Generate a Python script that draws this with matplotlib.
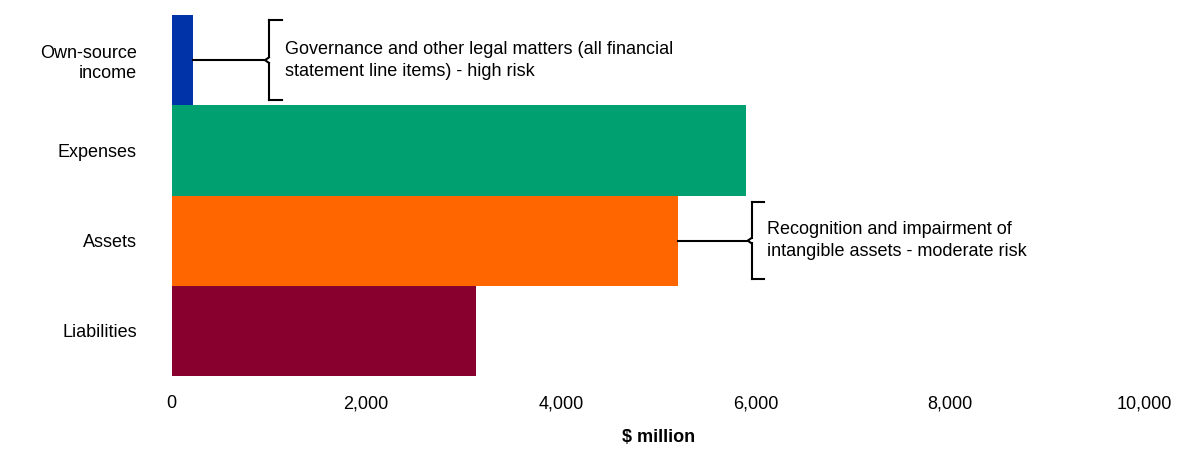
import matplotlib.pyplot as plt
from matplotlib.ticker import FuncFormatter

plt.rcParams["font.family"] = "Liberation Sans"

categories = ["Own-source\nincome", "Expenses", "Assets", "Liabilities"]
values = [216, 5900, 5200, 3130]
colors = ["#0033a8", "#00a071", "#ff6600", "#87002e"]
xticks = [0, 2000, 4000, 6000, 8000, 10000]

notes = [
    (0, "Governance and other legal matters (all financial\nstatement line items) - high risk"),
    (2, "Recognition and impairment of\nintangible assets - moderate risk"),
]

fig = plt.figure(figsize=(12, 4.7), dpi=100)
ax = fig.add_axes([0.143, 0.2, 0.811, 0.768])

ypos = list(range(len(categories)))
ax.barh(ypos, values, height=1.0, color=colors)
ax.set_ylim(3.5, -0.5)
ax.set_xlim(0, 10000)
ax.set_yticks(ypos)
ax.set_yticklabels(categories, fontsize=13)
ax.set_xticks(xticks)
ax.xaxis.set_major_formatter(FuncFormatter(lambda v, p: f"{int(v):,}"))
ax.tick_params(axis="x", labelsize=13, length=0, pad=14)
ax.tick_params(axis="y", length=0, pad=25)
for s in ax.spines.values():
    s.set_visible(False)
ax.set_xlabel("\\$ million", fontsize=13, fontweight="bold", labelpad=12)


def brace(ax, x, yc, half, end):
    top, bot = yc - half, yc + half
    nub = x - 40
    ax.plot([end, x], [top, top], color="black", lw=1.5, clip_on=False)
    ax.plot([x, x], [top, yc - 0.03], color="black", lw=1.5, clip_on=False)
    ax.plot([x, nub, x], [yc - 0.03, yc, yc + 0.03], color="black", lw=1.5, clip_on=False)
    ax.plot([x, x], [yc + 0.03, bot], color="black", lw=1.5, clip_on=False)
    ax.plot([x, end], [bot, bot], color="black", lw=1.5, clip_on=False)
    return nub


for idx, text in notes:
    v = values[idx]
    if idx == 0:
        x, end, tx, half = 1000, 1130, 1170, 0.44
    else:
        x, end, tx, half = 5960, 6090, 6120, 0.43
    nub = brace(ax, x, idx, half, end)
    ax.plot([v, nub], [idx, idx], color="black", lw=1.5, clip_on=False)
    ax.text(tx, idx, text, fontsize=13, va="center", ha="left", linespacing=1.4)

fig.savefig("out.png", dpi=100)
